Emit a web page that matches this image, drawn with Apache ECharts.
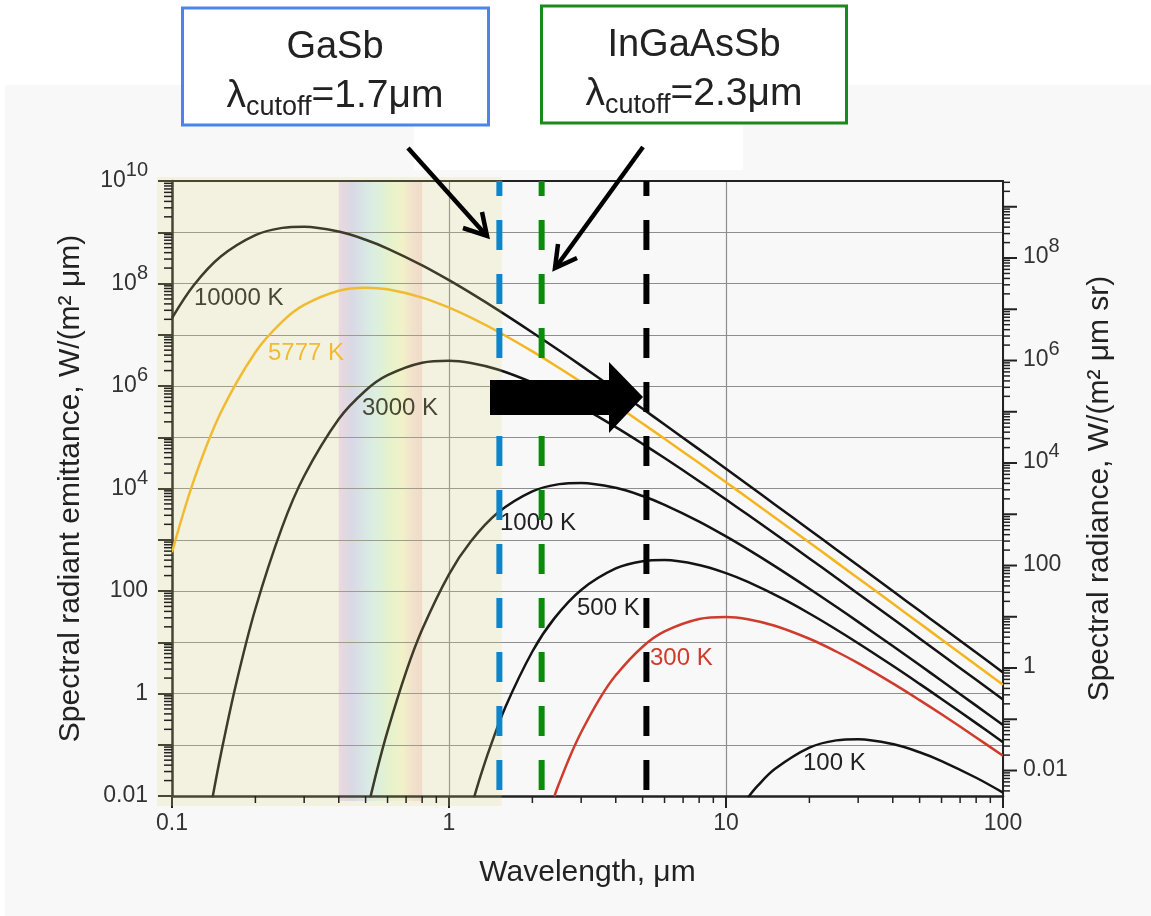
<!DOCTYPE html>
<html><head><meta charset="utf-8">
<script src="https://cdn.jsdelivr.net/npm/echarts@6/dist/echarts.min.js"></script>
<style>html,body{margin:0;padding:0;background:#fff}#c{width:1151px;height:916px}</style>
</head><body><div id="c"></div>
<script>
// ---- data (wavelength in µm, emittance in W/(m² µm)) ----
const lamHot = [0.1,0.12,0.15,0.2,0.25,0.3,0.4,0.5,0.6,0.8,1,1.2,1.5,2,2.5,3,4,5,6,8,10,12,15,20,25,30,40,50,60,80,100];
const m10000 = [2.11e7,9.33e7,3.36e8,8.79e8,1.217e9,1.283e9,1.03e9,7.14e8,4.81e8,2.266e8,1.164e8,6.49e7,3.06e7,1.11e7,4.93e6,2.5e6,8.44e5,3.59e5,1.776e5,5.8e4,2.418e4,1.18e4,4895,1568,647,313,99.8,41.0,19.8,6.29,2.58];
const m5777 = [571,1.457e4,3.03e5,4.57e6,1.807e7,3.82e7,7.24e7,8.28e7,7.7e7,5.31e7,3.38e7,2.158e7,1.156e7,4.73e6,2.243e6,1.19e6,4.23e5,1.855e5,9.35e4,3.13e4,1.323e4,6520,2728,882,366,178,56.9,23.4,11.35,3.61,1.484];
const lam3000 = [0.14,0.15,0.17,0.2,0.25,0.3,0.4,0.5,0.6,0.8,1,1.2,1.5,2,2.5,3,4,5,6,8,10,12,15,20,25,30,40,50,60,80,100];
const m3000 = [9.2e-3,0.064,1.47,45.0,1786,1.756e4,2.268e5,8.18e5,1.626e6,2.852e6,3.118e6,2.815e6,2.1e6,1.169e6,6.6e5,3.9e5,1.577e5,7.44e4,3.93e4,1.39e4,6080,3061,1308,431.5,181.2,88.8,28.7,11.89,5.78,1.848,0.762];
const lam1000 = [0.5,0.55,0.6,0.7,0.8,1,1.2,1.5,2,2.5,3,4,5,6,8,10,12,15,20,25,30,40,50,60,80,100];
const m1000 = [3.8e-3,0.0324,0.185,2.64,17.65,211,933,3364,8789,1.217e4,1.283e4,1.03e4,7140,4812,2266,1164,649,306,111,49.3,25.0,8.44,3.59,1.776,0.58,0.242];
const lam500 = [1.2,1.3,1.4,1.6,2,2.4,3,4,5,6,8,10,12,16,20,24,30,40,50,60,80,100];
const m500 = [5.8e-3,0.0246,0.0824,0.552,6.6,29.2,105,275,380,401,322,223,150,70.8,36.4,20.3,9.57,3.47,1.54,0.782,0.264,0.112];
const lam300 = [2.4,2.5,2.75,3,3.5,4,5,6,8,10,12,15,20,25,30,40,50,60,80,100];
const m300 = [9.85e-3,0.0179,0.0638,0.1756,0.795,2.27,8.18,16.26,28.5,31.2,28.2,21.0,11.69,6.6,3.9,1.577,0.744,0.393,0.139,0.0608];
const lam100 = [12,13,15,20,25,30,40,50,60,80,100];
const m100 = [9.3e-3,0.0157,0.0336,0.0879,0.1217,0.1283,0.103,0.0714,0.0481,0.0227,0.01164];

const curveNames = ['10000 K','5777 K','3000 K','1000 K','500 K','300 K','100 K'];
const curveColors = ['#141414','#f4b51f','#141414','#141414','#141414','#cf3b2c','#141414'];
const cutoffLam = [1.52, 2.16, 5.16];
const cutoffColors = ['#0a86cf','#0b8a0b','#000000'];
const shadeEndLam = 1.55;
const visibleBand = [0.4, 0.8];
const xTickLabels = ['0.1','1','10','100'];
const rightMajorTicks = [0.01,0.1,1,10,100,1e3,1e4,1e5,1e6,1e7,1e8,1e9];

const FONT = '"Liberation Sans", Arial, sans-serif';
const curveLams = [lamHot, lamHot, lam3000, lam1000, lam500, lam300, lam100];
const curveVals = [m10000, m5777, m3000, m1000, m500, m300, m100];

const supRich = {
  b: {fontSize: 23, fontFamily: FONT, color: '#333', fill: '#333', verticalAlign: 'bottom', lineHeight: 23},
  s: {fontSize: 20, fontFamily: FONT, color: '#333', fill: '#333', verticalAlign: 'bottom', lineHeight: 20, padding: [0,0,12,0]}
};
function expLabel(v) {
  const e = Math.round(Math.log10(v));
  if (Math.abs(Math.log10(v) - e) > 1e-6) return '';
  if (e % 2 !== 0) return '';
  if (e === -2) return '0.01';
  if (e === 0) return '1';
  if (e === 2) return '100';
  return '{b|10}{s|' + e + '}';
}

const series = [];
curveNames.forEach((n, i) => {
  series.push({
    name: n, type: 'line', xAxisIndex: 0, yAxisIndex: 0,
    data: curveLams[i].map((l, k) => [l, curveVals[i][k]]),
    showSymbol: false, smooth: 0.35, clip: true, silent: true, z: 2,
    lineStyle: {color: curveColors[i], width: 2.5}
  });
});
cutoffLam.forEach((l, i) => {
  series.push({
    type: 'line', xAxisIndex: 0, yAxisIndex: 0,
    data: [[l, 1e10], [l, 0.01]], showSymbol: false, silent: true, z: 20,
    lineStyle: {color: cutoffColors[i], width: 6, type: [30, 24], dashOffset: 15}
  });
});

// tick marks drawn through the axis scales. kind: 0 left minor, 1 bottom minor, 2 right major, 3 right minor
const tickData = [];
for (let k = -2; k <= 9; k++) for (let j = 2; j <= 9; j++) tickData.push([0.1, j * Math.pow(10, k), 0]);
for (let k = -1; k <= 1; k++) for (let j = 2; j <= 9; j++) tickData.push([j * Math.pow(10, k), 0.01, 1]);
rightMajorTicks.forEach(v => tickData.push([100, v * Math.PI, 2]));
for (let k = -3; k <= 9; k++) for (let j = 2; j <= 9; j++) {
  const v = j * Math.pow(10, k);
  if (v > 0.01 / Math.PI && v < 1e10 / Math.PI) tickData.push([100, v * Math.PI, 3]);
}
series.push({
  type: 'custom', xAxisIndex: 0, yAxisIndex: 0, clip: false, silent: true, z: 15,
  data: tickData, encode: {x: 0, y: 1},
  renderItem: function (params, api) {
    const xv = api.value(0), yv = api.value(1), kind = api.value(2);
    const p = api.coord([xv, yv]);
    let shape;
    if (kind === 0) shape = {x1: p[0] - 8, y1: p[1], x2: p[0], y2: p[1]};
    else if (kind === 1) shape = {x1: p[0], y1: p[1], x2: p[0], y2: p[1] + 7};
    else shape = {x1: p[0], y1: p[1], x2: p[0] + (kind === 2 ? 14 : 7), y2: p[1]};
    const children = [{type: 'line', shape: shape, style: {stroke: '#222', lineWidth: kind === 2 ? 2 : 1.5}}];
    if (kind === 2) {
      const lab = expLabel(yv / Math.PI);
      if (lab) children.push({type: 'text', x: p[0] + 20, y: p[1] - 1,
        style: {text: lab, rich: supRich, fontSize: 23, fontFamily: FONT, fill: '#333', align: 'left', verticalAlign: 'middle'}});
    }
    return {type: 'group', children: children};
  }
});

const option = {
  animation: false,
  textStyle: {fontFamily: FONT},
  grid: {left: 172, right: 148, top: 181, bottom: 120, containLabel: false, outerBoundsMode: 'none'},
  xAxis: [{
    type: 'log', logBase: 10, min: 0.1, max: 100, interval: 1, position: 'bottom',
    axisLine: {lineStyle: {color: '#222', width: 2.5}},
    axisTick: {length: 12, lineStyle: {color: '#222', width: 2}},
    minorTick: {show: false},
    axisLabel: {fontSize: 23, color: '#333', margin: 16, fontFamily: FONT,
      formatter: v => { const e = Math.round(Math.log10(v)); return xTickLabels[e + 1] || ''; }},
    splitLine: {show: true, lineStyle: {color: '#8e8e8e', width: 1.2}},
    name: 'Wavelength, μm', nameLocation: 'middle', nameGap: 62,
    nameTextStyle: {fontSize: 30, color: '#222', fontFamily: FONT}
  }, {
    type: 'log', logBase: 10, min: 0.1, max: 100, position: 'top',
    axisLine: {lineStyle: {color: '#222', width: 2}}, axisTick: {show: false},
    axisLabel: {show: false}, splitLine: {show: false}
  }],
  yAxis: [{
    type: 'log', logBase: 10, min: 0.01, max: 1e10, interval: 1, position: 'left',
    axisLine: {lineStyle: {color: '#222', width: 2.5}},
    axisTick: {length: 14, lineStyle: {color: '#222', width: 2}},
    minorTick: {show: false},
    axisLabel: {fontSize: 23, color: '#333', margin: 24, fontFamily: FONT, formatter: expLabel, rich: supRich},
    splitLine: {show: true, lineStyle: {color: '#8e8e8e', width: 1.2}},
    name: 'Spectral radiant emittance, W/(m² μm)', nameLocation: 'middle', nameGap: 86,
    nameTextStyle: {fontSize: 30, color: '#222', fontFamily: FONT}
  }, {
    type: 'log', logBase: 10, min: 0.01 / Math.PI, max: 1e10 / Math.PI, position: 'right',
    axisLine: {show: true, lineStyle: {color: '#222', width: 2}}, axisTick: {show: false},
    axisLabel: {show: false}, splitLine: {show: false}, minorTick: {show: false},
    name: 'Spectral radiance, W/(m² μm sr)', nameLocation: 'middle', nameGap: 82, nameRotate: 90,
    nameTextStyle: {fontSize: 30, color: '#222', fontFamily: FONT}
  }],
  series: series
};

const chart = echarts.init(document.getElementById('c'), null, {renderer: 'canvas'});
chart.setOption(option);

const px = v => chart.convertToPixel({xAxisIndex: 0}, v);
const py = v => chart.convertToPixel({yAxisIndex: 0}, v);
const gL = px(0.1), gR = px(100), gT = py(1e10), gB = py(0.01);
const shadeR = px(shadeEndLam);
const bandL = px(visibleBand[0]), bandR = px(visibleBand[1]);

const labelPos = [[194, 298], [268, 353], [362, 408], [500, 523], [577, 608], [650, 658], [803, 763]];
const boxRich = {
  m: {fontSize: 39, fontFamily: FONT, fill: '#222', verticalAlign: 'bottom', lineHeight: 39, padding: [0,0,6,0]},
  s: {fontSize: 27, fontFamily: FONT, fill: '#222', verticalAlign: 'bottom', lineHeight: 27}
};
const graphics = [
  {type: 'rect', z: -10, silent: true, shape: {x: 5, y: 85, width: 1146, height: 831}, style: {fill: '#f8f8f8'}},
  {type: 'rect', z: -9, silent: true, shape: {x: 414, y: 85, width: 329, height: 85}, style: {fill: '#ffffff'}},
  {type: 'rect', z: -5, silent: true, shape: {x: bandL, y: gT, width: bandR - bandL, height: gB - gT + 5},
    style: {fill: new echarts.graphic.LinearGradient(0, 0, 1, 0, [
      {offset: 0, color: '#efd9f8'},
      {offset: 0.16, color: '#d8d9ff'},
      {offset: 0.32, color: '#d8ecff'},
      {offset: 0.45, color: '#dbf6f8'},
      {offset: 0.6, color: '#e5f9e0'},
      {offset: 0.76, color: '#f6f9db'},
      {offset: 0.88, color: '#f6e5e0'},
      {offset: 1, color: '#f4dcdc'}
    ])}},
  {type: 'rect', z: 10, silent: true, shape: {x: gL - 15, y: gT - 4, width: shadeR - gL + 15, height: gB - gT + 14},
    style: {fill: 'rgba(223,213,123,0.2)'}},
  {type: 'polygon', z: 30, silent: true, shape: {points: [[490,380],[609,380],[609,362],[643,397],[609,433],[609,415],[490,415]]},
    style: {fill: '#000'}},
  {type: 'polyline', z: 30, silent: true, shape: {points: [[408,148],[486,235]]}, style: {stroke: '#000', lineWidth: 4.5, fill: null}},
  {type: 'polyline', z: 30, silent: true, shape: {points: [[463,228],[487,236],[482,212]]}, style: {stroke: '#000', lineWidth: 4.5, fill: null, lineJoin: 'miter'}},
  {type: 'polyline', z: 30, silent: true, shape: {points: [[643,147],[556,267]]}, style: {stroke: '#000', lineWidth: 4.5, fill: null}},
  {type: 'polyline', z: 30, silent: true, shape: {points: [[577,258],[555,268],[558,244]]}, style: {stroke: '#000', lineWidth: 4.5, fill: null, lineJoin: 'miter'}},
  {type: 'rect', z: 30, silent: true, shape: {x: 182.5, y: 8, width: 306, height: 117}, style: {fill: '#fff', stroke: '#4a86e8', lineWidth: 3}},
  {type: 'rect', z: 30, silent: true, shape: {x: 541.5, y: 6, width: 305, height: 117}, style: {fill: '#fff', stroke: '#1a8a1a', lineWidth: 3}},
  {type: 'text', z: 31, silent: true, x: 335, y: 48, style: {text: 'GaSb', fontSize: 38, fontFamily: FONT, fill: '#222', align: 'center', verticalAlign: 'middle'}},
  {type: 'text', z: 31, silent: true, x: 694, y: 46, style: {text: 'InGaAsSb', fontSize: 38, fontFamily: FONT, fill: '#222', align: 'center', verticalAlign: 'middle'}},
  {type: 'text', z: 31, silent: true, x: 335, y: 102, style: {text: '{m|λ}{s|cutoff}{m|=1.7μm}', align: 'center', verticalAlign: 'middle', rich: boxRich}},
  {type: 'text', z: 31, silent: true, x: 694, y: 100, style: {text: '{m|λ}{s|cutoff}{m|=2.3μm}', align: 'center', verticalAlign: 'middle', rich: boxRich}}
];
curveNames.forEach((n, i) => {
  graphics.push({type: 'text', z: 5, silent: true, x: labelPos[i][0], y: labelPos[i][1],
    style: {text: n, fontSize: 24, fontFamily: FONT, fill: curveColors[i] === '#141414' ? '#222' : curveColors[i], align: 'left', verticalAlign: 'middle'}});
});
chart.setOption({graphic: graphics});
</script></body></html>
